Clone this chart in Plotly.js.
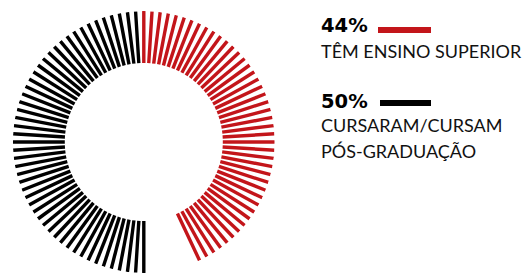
<!DOCTYPE html>
<html>
<head>
<meta charset="utf-8">
<script src="https://cdn.plot.ly/plotly-3.0.1.min.js"></script>
<style>html,body{margin:0;padding:0;background:#fff;}#chart{width:529px;height:273px;}</style>
</head>
<body>
<div id="chart"></div>
<script>
// ---- data ----
const pctLabels = ['44%', '50%'];
const groupLabels = ['TÊM ENSINO SUPERIOR', 'CURSARAM/CURSAM', 'PÓS-GRADUAÇÃO'];
const groupValues = [44, 50];        // percentage -> number of ticks out of 100
const groupStarts = [0, 50];         // first tick position (out of 100)
const groupColors = ['#c3151a', '#000000'];
const totalTicks = 100;

// ---- geometry (px) ----
const W = 529, H = 273;
const cx = 143.8, cy = 142;   // centre from top-left
const R = 131;                // outer radius, px
const rIn = 79;               // inner radius, px

const traces = groupValues.map((v, g) => {
  const r = [], theta = [];
  for (let i = 0; i < v; i++) {
    const t = (groupStarts[g] + i) * 360 / totalTicks;
    r.push(rIn, R, null);
    theta.push(t, t, null);
  }
  return {
    type: 'scatterpolar', mode: 'lines', r: r, theta: theta,
    line: {color: groupColors[g], width: 3.4},
    connectgaps: false, hoverinfo: 'skip', showlegend: false
  };
});

const px = x => x / W;
const py = y => 1 - y / H;
const lab = {family: 'Lato', size: 18, color: '#111', weight: 400};
const big = {family: 'DejaVu Sans', size: 19.5, color: '#000', weight: 700};

const layout = {
  width: W, height: H,
  margin: {l: 0, r: 0, t: 0, b: 0},
  paper_bgcolor: '#fff',
  showlegend: false,
  polar: {
    domain: {x: [px(cx - R), px(cx + R)], y: [py(cy + R), py(cy - R)]},
    bgcolor: 'rgba(0,0,0,0)',
    radialaxis: {visible: false, range: [0, R]},
    angularaxis: {visible: false, rotation: 90, direction: 'clockwise'}
  },
  annotations: [
    {text: pctLabels[0], x: px(319), y: py(25), xref: 'paper', yref: 'paper', xanchor: 'left', yanchor: 'middle', showarrow: false, font: big},
    {text: groupLabels[0], x: px(319), y: py(51), xref: 'paper', yref: 'paper', xanchor: 'left', yanchor: 'middle', showarrow: false, font: lab},
    {text: pctLabels[1], x: px(319), y: py(101.4), xref: 'paper', yref: 'paper', xanchor: 'left', yanchor: 'middle', showarrow: false, font: big},
    {text: groupLabels[1], x: px(319), y: py(125.3), xref: 'paper', yref: 'paper', xanchor: 'left', yanchor: 'middle', showarrow: false, font: lab},
    {text: groupLabels[2], x: px(319), y: py(150.5), xref: 'paper', yref: 'paper', xanchor: 'left', yanchor: 'middle', showarrow: false, font: lab}
  ],
  shapes: [
    {type: 'line', xref: 'paper', yref: 'paper', x0: px(378), x1: px(431), y0: py(30), y1: py(30), line: {color: groupColors[0], width: 6}},
    {type: 'line', xref: 'paper', yref: 'paper', x0: px(380), x1: px(431), y0: py(102.9), y1: py(102.9), line: {color: groupColors[1], width: 6}}
  ]
};

Plotly.newPlot('chart', traces, layout, {displayModeBar: false, staticPlot: true});
</script>
</body>
</html>
